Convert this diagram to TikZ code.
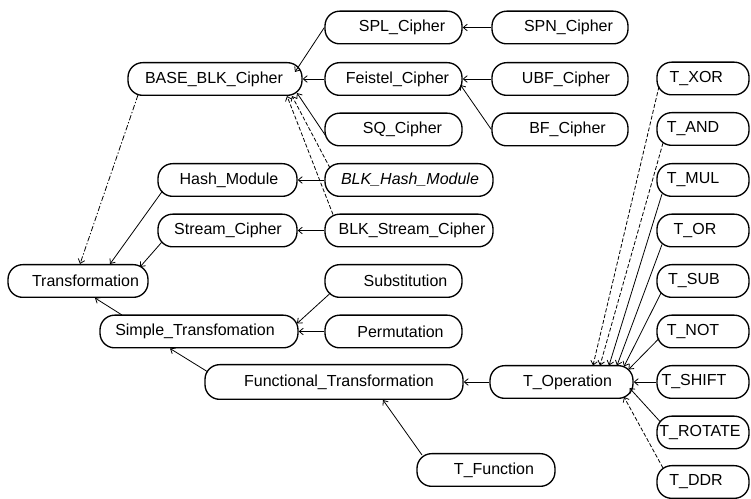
\documentclass[tikz,border=0pt]{standalone}
\usepackage{fontspec}
\setmainfont{Liberation Sans}
\usetikzlibrary{arrows.meta,calc}
\begin{document}
\begin{tikzpicture}[x=0.75pt,y=-0.75pt,
  box/.style={draw, line width=1pt, rounded corners=11pt, minimum height=24.5pt, inner sep=0pt, font=\fontsize{12}{14}\selectfont},
  tx/.style={execute at begin node={\hspace*{#1pt}}},
  link/.style={line width=0.6pt, -{Straight Barb[length=3pt,width=5pt]}},
  dlink/.style={link, dash pattern=on 3pt off 1.5pt},
  ddlink/.style={link, dash pattern=on 4pt off 1.5pt on 1pt off 1.5pt}]
\useasboundingbox (0,0) rectangle (751,499);
% column B
\node[box, minimum width=102.75pt, tx=12.75] (spl) at (393.5,27.5) {SPL\_Cipher};
\node[box, minimum width=102.75pt, tx=6] (feistel) at (393.5,79) {Feistel\_Cipher};
\node[box, minimum width=102.75pt, tx=13.5] (sq) at (393.5,129.5) {SQ\_Cipher};
\node[box, minimum width=102.75pt, tx=18] (subst) at (393.5,281) {Substitution};
\node[box, minimum width=102.75pt, tx=10.5] (perm) at (393.5,331.5) {Permutation};
% column C
\node[box, minimum width=102pt, tx=12.75] (spn) at (560,27.5) {SPN\_Cipher};
\node[box, minimum width=102pt, tx=9] (ubf) at (560,79) {UBF\_Cipher};
\node[box, minimum width=102pt, tx=11.25] (bf) at (560,129.5) {BF\_Cipher};
% column A
\node[box, minimum width=130.5pt, tx=-1.5] (base) at (215,79) {BASE\_BLK\_Cipher};
\node[box, minimum width=104.25pt, tx=2.25] (hash) at (227.5,180) {Hash\_Module};
\node[box, minimum width=104.25pt, tx=0.75] (stream) at (227.5,230.5) {Stream\_Cipher};
\node[box, minimum width=126pt, tx=1.5] (blkhash) at (409,180) {\itshape BLK\_Hash\_Module};
\node[box, minimum width=126pt, tx=4.5] (blkstream) at (409,230.5) {BLK\_Stream\_Cipher};
\node[box, minimum width=105pt, tx=11.25] (trans) at (78,281) {Transformation};
\node[box, minimum width=148.5pt, tx=-6] (simple) at (199,331.5) {Simple\_Transfomation};
\node[box, minimum width=193.5pt, minimum height=26pt, tx=7.5] (func) at (334,382) {Functional\_Transformation};
\node[box, minimum width=107.25pt, tx=9] (top) at (561.5,382) {T\_Operation};
\node[box, minimum width=103.5pt, tx=12] (tfunc) at (486,470) {T\_Function};
% right column
\node[box, minimum width=69pt, tx=-10] (txor) at (703,78.5) {T\_XOR};
\node[box, minimum width=69pt, tx=-15] (tand) at (703,129) {T\_AND};
\node[box, minimum width=69pt, tx=-15] (tmul) at (703,180) {T\_MUL};
\node[box, minimum width=69pt, tx=-12] (tor) at (703,230.5) {T\_OR};
\node[box, minimum width=69pt, tx=-13.5] (tsub) at (703,281) {T\_SUB};
\node[box, minimum width=69pt, tx=-15] (tnot) at (703,331.5) {T\_NOT};
\node[box, minimum width=69pt, tx=-13.5] (tshift) at (703,382) {T\_SHIFT};
\node[box, minimum width=69pt, tx=-4.5] (trot) at (703,432.5) {T\_ROTATE};
\node[box, minimum width=69pt, tx=-10.5] (tddr) at (703,482) {T\_DDR};
% connectors
\draw[link] (spn.west) -- (spl.east);
\draw[link] (spl.west) -- ($(base)+(80,-7)$);
\draw[link] (feistel.west) -- (base.east);
\draw[link] (ubf.west) -- (feistel.east);
\draw[link] (bf.west) -- ($(feistel)+(67,6)$);
\draw[link] ($(sq)+(-68,6)$) -- ($(base)+(82,14)$);
\draw[dlink] ($(blkhash)+(-79,-12)$) -- ($(base)+(77,17)$);
\draw[dlink] ($(blkstream)+(-76,-16)$) -- ($(base)+(72,17)$);
\draw[link] (blkhash.west) -- (hash.east);
\draw[link] (blkstream.west) -- (stream.east);
\draw[ddlink] ($(base)+(-77,16)$) -- ($(trans)+(2,-17)$);
\draw[link] ($(hash)+(-65,11)$) -- ($(trans)+(32,-17)$);
\draw[link] ($(stream)+(-66,12)$) -- ($(trans)+(62,-14)$);
\draw[link] ($(simple)+(-77,-16.5)$) -- ($(trans)+(17,17)$);
\draw[link] ($(subst)+(-63,12)$) -- ($(simple)+(98,-8)$);
\draw[link] (perm.west) -- (simple.east);
\draw[link] ($(func)+(-126,-10)$) -- ($(simple)+(-29,17)$);
\draw[link] (top.west) -- (func.east);
\draw[link] ($(tfunc)+(-64,-15)$) -- ($(func)+(49,18)$);
\draw[dlink] ($(txor)+(-44,8)$) -- ($(top)+(31.5,-16.5)$);
\draw[dlink] ($(tand)+(-40,14)$) -- ($(top)+(38.5,-16.5)$);
\draw[link] ($(tmul)+(-41,14)$) -- ($(top)+(47.5,-16.5)$);
\draw[link] ($(tor)+(-41,14)$) -- ($(top)+(55.5,-16.5)$);
\draw[link] ($(tsub)+(-42,12)$) -- ($(top)+(62.5,-15.5)$);
\draw[link] ($(tnot)+(-44,7)$) -- ($(top)+(67,-12.5)$);
\draw[link] (tshift.west) -- (top.east);
\draw[link] ($(trot)+(-43,-11)$) -- ($(top)+(68,6)$);
\draw[dlink] ($(tddr)+(-40,-14)$) -- ($(top)+(62.5,15)$);
\end{tikzpicture}
\end{document}
